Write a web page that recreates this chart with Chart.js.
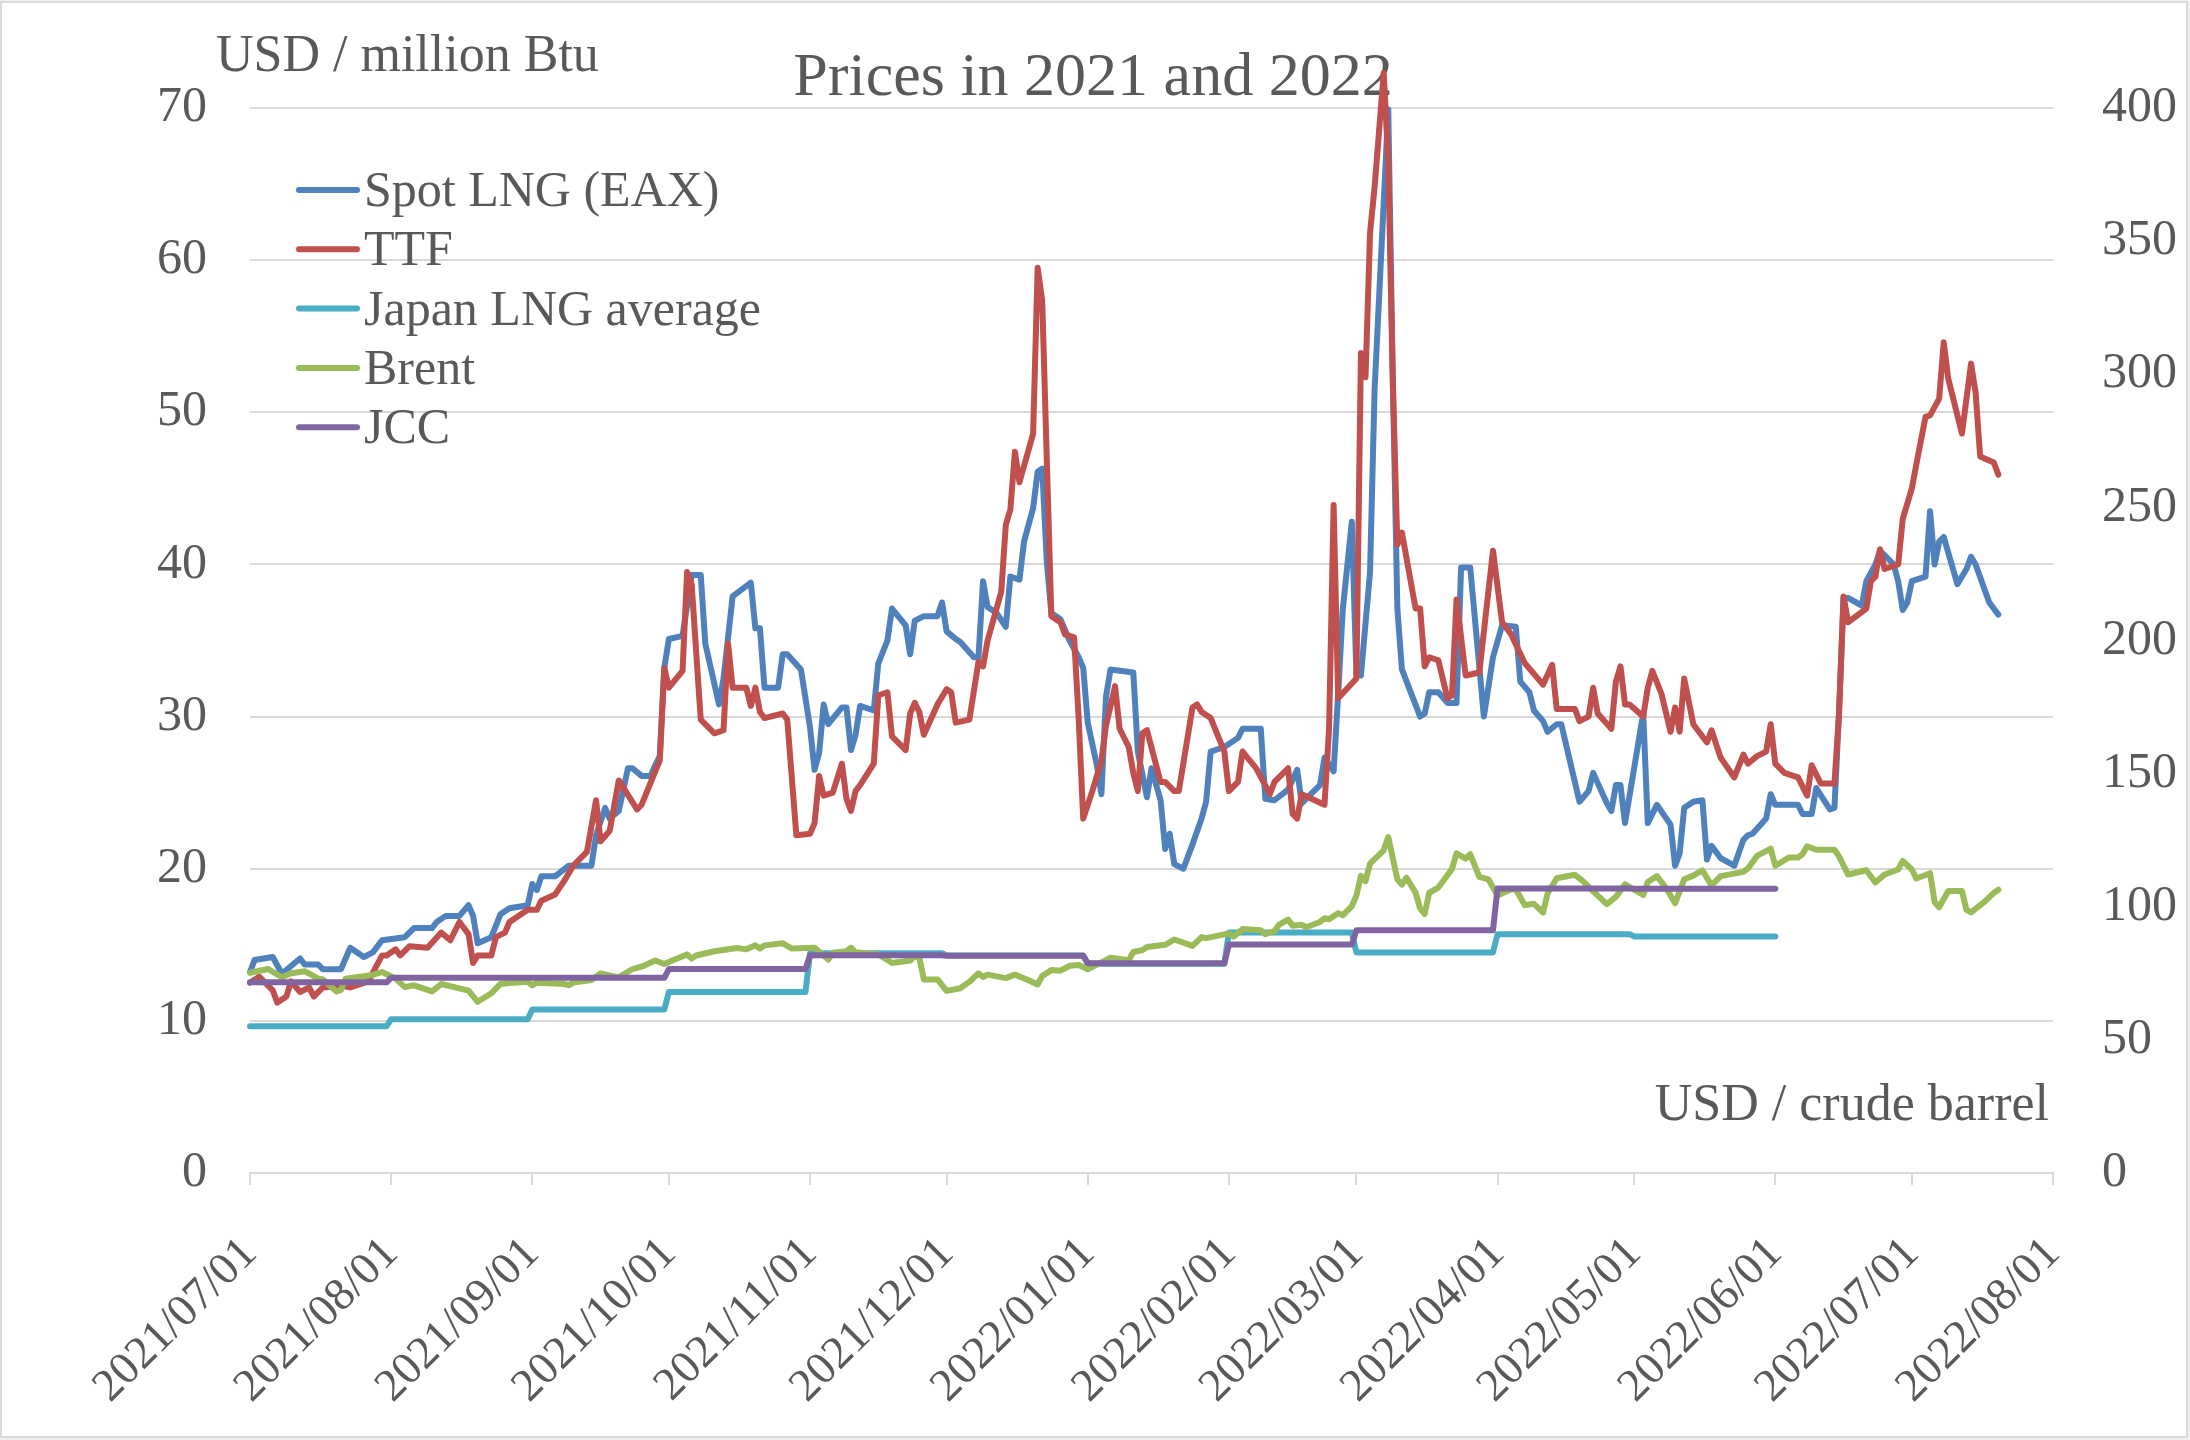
<!DOCTYPE html>
<html>
<head>
<meta charset="utf-8">
<title>Prices in 2021 and 2022</title>
<script src="https://cdn.jsdelivr.net/npm/chart.js@4.4.1/dist/chart.umd.min.js"></script>
<style>
  html, body { margin: 0; padding: 0; background: #fff; }
  #wrap { width: 2190px; height: 1440px; }
</style>
</head>
<body>
<div id="wrap"><canvas id="prices" width="2190" height="1440"></canvas></div>
<script>
const START = Date.UTC(2021, 6, 1);
const dayOf = s => {
    const [y, m, d] = s.split('/').map(Number);
    return (Date.UTC(y, m - 1, d) - START) / 86400000;
};

const monthLabels = ['2021/07/01', '2021/08/01', '2021/09/01', '2021/10/01', '2021/11/01', '2021/12/01',
    '2022/01/01', '2022/02/01', '2022/03/01', '2022/04/01', '2022/05/01', '2022/06/01', '2022/07/01', '2022/08/01'];
const monthTicks = monthLabels.map(dayOf);

// daily series, x = days since 2021/07/01
// Spot LNG (EAX), USD / million Btu
const lngDays = [0, 1, 5, 7, 11, 12, 15, 16, 20, 22, 25, 27, 29, 34, 36, 40, 41, 43, 46, 48,
    49, 50, 53, 55, 57, 61, 62, 63, 64, 67, 70, 75, 76, 78, 79, 81, 83, 84, 86, 88,
    89, 90, 91, 92, 95, 97, 99, 100, 103, 104, 106, 110, 111, 112, 113, 116, 117, 118, 121, 123,
    124, 125, 126, 127, 130, 131, 132, 133, 134, 137, 138, 140, 141, 144, 145, 146, 148, 151, 152, 153,
    155, 156, 159, 160, 161, 162, 164, 166, 167, 169, 170, 172, 173, 174, 175, 176, 178, 180, 182, 183,
    184, 186, 187, 188, 189, 194, 195, 197, 198, 200, 201, 202, 203, 205, 207, 209, 210, 211, 214, 217,
    218, 222, 223, 225, 228, 230, 231, 232, 235, 236, 238, 239, 240, 242, 243, 244, 246, 247, 250, 251,
    252, 253, 257, 258, 259, 261, 263, 265, 266, 268, 271, 273, 275, 278, 279, 281, 282, 284, 285, 287,
    288, 292, 294, 295, 298, 299, 300, 301, 302, 306, 307, 309, 312, 313, 314, 315, 317, 319, 320, 321,
    323, 326, 328, 329, 330, 333, 334, 335, 340, 341, 343, 344, 347, 348, 349, 350, 351, 354, 355, 357,
    358, 361, 362, 363, 364, 365, 368, 369, 370, 371, 372, 375, 377, 378, 379, 382, 384];
const lngPrices = [13.2, 14.0, 14.2, 13.1, 14.1, 13.7, 13.7, 13.4, 13.4, 14.8, 14.2, 14.5, 15.3, 15.5, 16.1, 16.1, 16.5, 16.9, 16.9, 17.6,
    16.9, 15.1, 15.5, 17.0, 17.4, 17.6, 19.0, 18.6, 19.5, 19.5, 20.2, 20.2, 22.2, 24.0, 23.3, 23.8, 26.6, 26.6, 26.1, 26.1,
    26.8, 27.4, 33.2, 35.1, 35.3, 39.3, 39.3, 34.8, 30.8, 32.5, 37.9, 38.8, 35.8, 35.8, 31.9, 31.9, 34.1, 34.1, 33.1, 29.3,
    26.5, 27.6, 30.8, 29.5, 30.6, 30.6, 27.8, 28.8, 30.7, 30.4, 33.5, 35.0, 37.1, 36.0, 34.1, 36.3, 36.6, 36.6, 37.5, 35.6,
    35.1, 34.9, 33.9, 33.9, 38.9, 37.2, 36.8, 35.9, 39.2, 39.0, 41.5, 43.7, 46.1, 46.3, 40.2, 36.8, 36.4, 35.0, 33.9, 33.2,
    29.6, 26.8, 24.9, 31.3, 33.1, 32.9, 27.7, 24.7, 26.6, 24.5, 21.3, 22.3, 20.3, 20.0, 21.6, 23.3, 24.4, 27.7, 28.0, 28.6,
    29.2, 29.2, 24.6, 24.5, 25.2, 26.5, 24.3, 24.6, 25.5, 27.3, 26.4, 31.5, 37.0, 42.8, 32.8, 32.7, 39.5, 51.5, 69.9, 52.2,
    37.1, 33.1, 30.0, 30.2, 31.6, 31.6, 30.9, 30.9, 39.8, 39.8, 30.0, 33.9, 36.0, 35.9, 32.3, 31.6, 30.4, 29.7, 29.0, 29.5,
    29.5, 24.4, 25.1, 26.3, 24.3, 23.8, 25.5, 25.5, 23.0, 30.2, 23.0, 24.2, 22.9, 20.2, 21.0, 24.0, 24.4, 24.5, 20.6, 21.5,
    20.7, 20.2, 21.9, 22.2, 22.3, 23.3, 24.9, 24.2, 24.2, 23.6, 23.6, 25.3, 23.9, 24.0, 30.2, 37.8, 37.8, 37.3, 38.9, 40.0,
    40.9, 40.0, 38.9, 37.0, 37.5, 38.9, 39.2, 43.5, 40.0, 41.5, 41.8, 38.7, 39.7, 40.5, 40.0, 37.5, 36.7];

// TTF, USD / million Btu
const ttfDays = [0, 2, 5, 6, 8, 9, 11, 13, 14, 16, 20, 22, 26, 29, 30, 32, 33, 35, 39, 42,
    44, 46, 48, 49, 50, 53, 54, 56, 57, 61, 63, 64, 67, 69, 71, 74, 76, 77, 79, 81,
    85, 86, 89, 90, 91, 92, 95, 96, 97, 99, 102, 104, 105, 106, 109, 110, 111, 112, 113, 117,
    118, 120, 123, 124, 125, 126, 128, 130, 131, 132, 133, 134, 137, 138, 140, 141, 144, 145, 146, 147,
    148, 151, 153, 154, 155, 158, 160, 161, 162, 165, 166, 167, 168, 169, 172, 173, 174, 176, 178, 179,
    180, 181, 182, 183, 185, 187, 188, 190, 191, 193, 194, 195, 196, 197, 200, 201, 203, 204, 207, 208,
    209, 211, 214, 215, 217, 218, 221, 224, 225, 228, 229, 230, 231, 236, 237, 238, 239, 243, 244, 245,
    246, 247, 249, 250, 251, 252, 253, 256, 257, 258, 259, 261, 263, 264, 265, 267, 270, 273, 275, 277,
    280, 284, 286, 287, 291, 292, 294, 295, 296, 299, 300, 301, 302, 303, 306, 307, 308, 310, 312, 313,
    314, 315, 317, 320, 321, 323, 326, 328, 329, 331, 333, 334, 335, 337, 340, 342, 343, 345, 348, 349,
    350, 351, 355, 356, 357, 358, 359, 362, 363, 365, 366, 368, 369, 371, 372, 373, 376, 378, 379, 380,
    383, 384];
const ttfPrices = [12.5, 12.9, 12.0, 11.2, 11.6, 12.6, 11.9, 12.2, 11.6, 12.2, 12.3, 12.2, 12.6, 14.3, 14.3, 14.7, 14.3, 14.9, 14.8, 15.8,
    15.3, 16.5, 15.7, 13.8, 14.3, 14.3, 15.5, 15.8, 16.5, 17.3, 17.3, 17.9, 18.3, 19.2, 20.2, 21.1, 24.5, 21.8, 22.5, 25.8,
    23.9, 24.2, 26.4, 27.1, 33.2, 31.9, 33.0, 39.5, 38.7, 29.8, 28.9, 29.1, 34.8, 31.9, 31.9, 30.7, 31.9, 30.3, 29.9, 30.2,
    29.8, 22.2, 22.3, 23.0, 26.1, 24.8, 25.0, 26.9, 24.6, 23.8, 25.1, 25.5, 26.9, 31.4, 31.6, 28.7, 27.8, 30.2, 30.9, 30.3,
    28.8, 30.8, 31.8, 31.6, 29.6, 29.8, 33.6, 33.3, 35.0, 38.2, 42.6, 43.6, 47.4, 45.4, 48.6, 59.5, 57.3, 36.6, 36.2, 35.4,
    35.3, 35.2, 29.9, 23.3, 25.1, 27.1, 29.4, 32.0, 29.2, 28.0, 26.3, 25.1, 28.9, 29.1, 25.7, 25.7, 25.1, 25.1, 30.6, 30.8,
    30.3, 29.9, 27.7, 25.1, 25.7, 27.7, 26.6, 24.9, 25.7, 26.6, 23.6, 23.3, 24.9, 24.2, 29.2, 43.9, 31.2, 32.5, 53.9, 52.3,
    61.8, 64.8, 72.3, 66.5, 52.0, 41.3, 42.1, 37.1, 37.1, 33.3, 33.9, 33.7, 31.2, 31.4, 37.7, 32.7, 32.9, 40.9, 36.2, 35.4,
    33.5, 32.1, 33.4, 30.5, 30.5, 29.7, 30.0, 31.9, 30.2, 29.2, 32.3, 33.3, 30.8, 30.8, 30.0, 31.9, 33.0, 31.5, 29.0, 30.6,
    29.0, 32.5, 29.5, 28.3, 29.1, 27.3, 26.0, 27.5, 26.9, 27.4, 27.7, 29.5, 26.9, 26.3, 26.0, 24.8, 26.8, 25.6, 25.6, 30.2,
    37.9, 36.2, 37.1, 38.9, 39.2, 41.0, 39.7, 40.0, 43.0, 45.0, 46.6, 49.7, 49.8, 50.9, 54.6, 52.2, 48.6, 53.2, 51.3, 47.1,
    46.7, 45.9];

// Brent, USD / crude barrel
const brentDays = [0, 4, 7, 9, 12, 15, 16, 19, 20, 21, 27, 29, 32, 34, 36, 40, 42, 48, 50, 53,
    55, 58, 61, 62, 63, 69, 70, 71, 75, 77, 81, 84, 86, 89, 91, 93, 96, 97, 98, 102,
    107, 109, 111, 112, 113, 117, 119, 124, 127, 128, 131, 132, 133, 138, 140, 141, 145, 146, 147, 148,
    151, 153, 156, 158, 160, 161, 162, 166, 168, 171, 173, 174, 176, 178, 180, 182, 184, 189, 193, 194,
    196, 197, 201, 203, 207, 209, 210, 215, 216, 218, 222, 223, 225, 226, 228, 229, 231, 232, 235, 236,
    237, 239, 240, 242, 243, 244, 245, 246, 249, 250, 252, 253, 254, 256, 257, 258, 259, 261, 264, 265,
    267, 268, 270, 272, 274, 277, 278, 280, 282, 284, 285, 287, 291, 293, 294, 298, 300, 302, 306, 307,
    309, 311, 313, 315, 317, 319, 321, 323, 328, 329, 331, 334, 335, 338, 340, 341, 342, 344, 348, 349,
    351, 355, 357, 359, 362, 363, 365, 366, 369, 370, 371, 373, 376, 377, 378, 381, 383, 384];
const brentPrices = [75.2, 76.6, 73.5, 75.0, 75.8, 73.0, 72.7, 68.2, 68.8, 73.0, 74.4, 75.5, 73.0, 69.8, 70.5, 68.2, 71.0, 68.5, 64.3, 67.5,
    71.0, 71.5, 71.8, 70.5, 71.5, 71.0, 70.5, 71.5, 72.5, 75.0, 73.5, 76.6, 77.5, 79.8, 78.5, 80.0, 82.1, 80.5, 81.7, 83.3,
    84.5, 84.0, 85.5, 84.3, 85.5, 86.3, 84.3, 84.6, 80.2, 82.7, 83.3, 84.6, 82.9, 82.1, 80.0, 78.9, 79.8, 81.3, 81.0, 72.7,
    72.7, 68.4, 69.4, 71.8, 75.0, 73.6, 74.5, 73.2, 74.5, 72.4, 70.8, 74.0, 76.2, 76.0, 77.8, 78.1, 76.5, 80.9, 79.9, 83.0,
    83.7, 84.9, 85.7, 87.7, 85.3, 88.6, 88.2, 90.0, 88.8, 91.6, 91.2, 89.7, 90.9, 93.2, 95.2, 92.9, 93.2, 92.3, 94.3, 95.7,
    95.3, 97.6, 96.8, 100.2, 104.2, 111.6, 109.6, 116.2, 121.2, 126.2, 110.3, 108.3, 110.9, 105.3, 99.3, 97.3, 105.3, 107.2, 114.2, 120.1,
    118.1, 119.7, 111.2, 110.3, 104.2, 106.6, 106.6, 100.6, 101.1, 97.8, 105.0, 110.7, 112.0, 109.3, 107.4, 101.0, 103.7, 108.4, 104.4, 109.3,
    111.5, 107.1, 101.3, 110.3, 111.7, 113.7, 108.0, 111.5, 113.1, 114.4, 119.1, 121.8, 115.4, 118.5, 118.5, 119.8, 122.7, 121.4, 121.4, 118.9,
    112.1, 113.7, 109.1, 112.1, 114.0, 117.2, 114.0, 110.6, 112.6, 101.8, 99.8, 105.9, 105.9, 98.8, 97.9, 101.9, 105.2, 106.4];

// monthly averages
const avgMonths = ['2021/07/01', '2021/08/01', '2021/09/01', '2021/10/01', '2021/11/01', '2021/12/01',
    '2022/01/01', '2022/02/01', '2022/03/01', '2022/04/01', '2022/05/01'];
const japanLng = [9.65, 10.1, 10.75, 11.9, 14.45, 14.3, 13.75, 15.8, 14.5, 15.7, 15.55]; // USD / million Btu
const jcc = [71.6, 73.3, 73.3, 76.6, 81.8, 81.6, 78.8, 85.8, 91.2, 106.9, 106.8];         // USD / crude barrel
const avgEnd = '2022/06/01';

const FONT = '"Liberation Serif", "Times New Roman", serif';
const TEXT = '#595959';
const GRID = '#d9d9d9';
const LINE_W = 6;

function points(days, values) {
    return days.map((d, i) => ({ x: d, y: values[i] }));
}

// flat line over each month, one-day slope into the next value
function monthlySteps(values) {
    const pts = [];
    values.forEach((v, i) => {
        const from = dayOf(avgMonths[i]);
        const to = i + 1 < values.length ? dayOf(avgMonths[i + 1]) - 1 : dayOf(avgEnd);
        pts.push({ x: from, y: v }, { x: to, y: v });
    });
    return pts;
}

const chartText = {
    id: 'chartText',
    beforeDraw(chart) {
        const { ctx, width, height } = chart;
        ctx.save();
        ctx.fillStyle = '#eef2ec';
        ctx.fillRect(0, 0, width, height);
        ctx.fillStyle = '#ffffff';
        ctx.fillRect(1, 2, width - 4, height - 5);
        ctx.strokeStyle = GRID;
        ctx.lineWidth = 2;
        ctx.strokeRect(1, 2, width - 4, height - 5);
        ctx.restore();
    },
    beforeDatasetsDraw(chart) {
        const { ctx, chartArea } = chart;
        ctx.save();
        ctx.fillStyle = TEXT;
        ctx.textBaseline = 'alphabetic';

        ctx.font = `62px ${FONT}`;
        ctx.textAlign = 'center';
        ctx.fillText('Prices in 2021 and 2022', 1093, 95);

        ctx.font = `52px ${FONT}`;
        ctx.textAlign = 'left';
        ctx.fillText('USD / million Btu', 216, 71);
        ctx.textAlign = 'right';
        ctx.fillText('USD / crude barrel', chartArea.right - 4, 1120);

        // legend, top left inside the plot
        ctx.font = `50px ${FONT}`;
        ctx.textAlign = 'left';
        ctx.lineCap = 'round';
        ctx.lineWidth = LINE_W;
        chart.data.datasets.forEach((ds, i) => {
            const y = 190 + i * 59.3;
            ctx.strokeStyle = ds.borderColor;
            ctx.beginPath();
            ctx.moveTo(chartArea.left + 49, y);
            ctx.lineTo(chartArea.left + 107, y);
            ctx.stroke();
            ctx.fillText(ds.label, chartArea.left + 114, y + 16);
        });
        ctx.restore();
    }
};

const tickFont = { family: FONT, size: 50 };

new Chart(document.getElementById('prices'), {
    type: 'line',
    data: {
        datasets: [
            { label: 'Spot LNG (EAX)', data: points(lngDays, lngPrices), borderColor: '#4f81bd', yAxisID: 'y', order: 5 },
            { label: 'TTF', data: points(ttfDays, ttfPrices), borderColor: '#c0504d', yAxisID: 'y', order: 4 },
            { label: 'Japan LNG average', data: monthlySteps(japanLng), borderColor: '#4bacc6', yAxisID: 'y', order: 3 },
            { label: 'Brent', data: points(brentDays, brentPrices), borderColor: '#9bbb59', yAxisID: 'y1', order: 2 },
            { label: 'JCC', data: monthlySteps(jcc), borderColor: '#8064a2', yAxisID: 'y1', order: 1 },
        ],
    },
    options: {
        responsive: false,
        animation: false,
        devicePixelRatio: 1,
        layout: { padding: { top: 108, left: 0, right: 0, bottom: 0 } },
        elements: {
            point: { radius: 0 },
            line: { borderWidth: LINE_W, tension: 0, borderCapStyle: 'round', borderJoinStyle: 'round', fill: false },
        },
        datasets: { line: { clip: false } },
        plugins: {
            legend: { display: false },
            tooltip: { enabled: false },
        },
        scales: {
            x: {
                type: 'linear',
                min: 0,
                max: monthTicks[monthTicks.length - 1],
                afterBuildTicks: scale => { scale.ticks = monthTicks.map(v => ({ value: v })); },
                afterFit: scale => { scale.height = 267; },
                ticks: {
                    autoSkip: false,
                    minRotation: 45,
                    maxRotation: 45,
                    padding: 42,
                    color: TEXT,
                    font: { family: FONT, size: 46 },
                    callback: (value, index) => monthLabels[index],
                },
                grid: { drawOnChartArea: false, color: GRID, lineWidth: 2, tickLength: 12 },
                border: { color: GRID, width: 2 },
            },
            y: {
                position: 'left',
                min: 0,
                max: 70,
                afterFit: scale => { scale.width = 250; },
                ticks: { stepSize: 10, padding: 43, color: TEXT, font: tickFont },
                grid: { color: GRID, lineWidth: 2, drawTicks: false },
                border: { display: false },
            },
            y1: {
                position: 'right',
                min: 0,
                max: 400,
                afterFit: scale => { scale.width = 137; },
                ticks: { stepSize: 50, padding: 49, color: TEXT, font: tickFont },
                grid: { display: false, drawTicks: false },
                border: { display: false },
            },
        },
    },
    plugins: [chartText],
});
</script>
</body>
</html>
